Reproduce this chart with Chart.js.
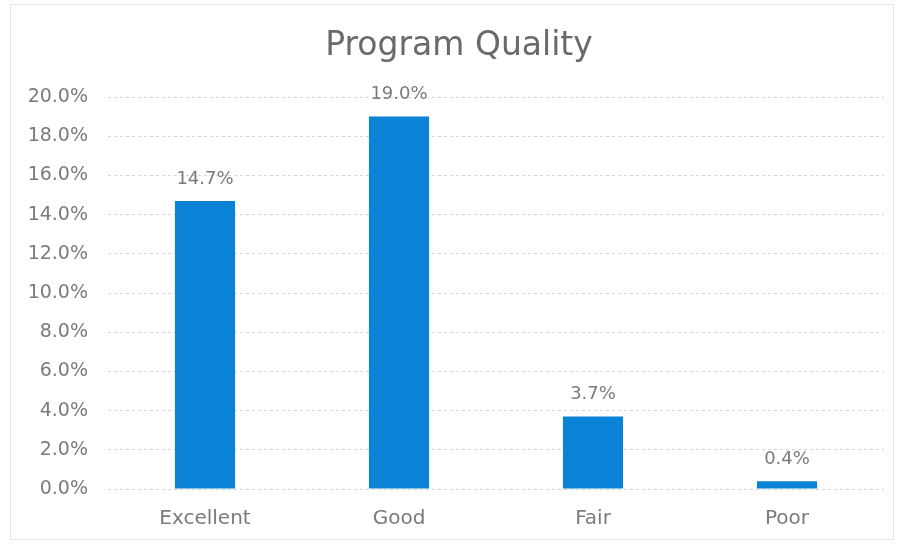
<!DOCTYPE html>
<html>
<head>
<meta charset="utf-8">
<script src="https://cdn.jsdelivr.net/npm/chart.js"></script>
<style>
  html, body { margin: 0; padding: 0; background: #fff; }
  #wrap { position: relative; width: 900px; height: 544px; }
  #frame { position: absolute; left: 10px; top: 4px; width: 884px; height: 536px; border: 1px solid #e6e6e6; box-sizing: border-box; pointer-events: none; }
</style>
</head>
<body>
<div id="wrap">
  <canvas id="c" width="900" height="544"></canvas>
  <div id="frame"></div>
</div>
<script>
const categories = ["Excellent", "Good", "Fair", "Poor"];
const values = [14.7, 19.0, 3.7, 0.4];
const yTicks = [0, 2, 4, 6, 8, 10, 12, 14, 16, 18, 20];
const titleText = "Program Quality";

const FONT = "'DejaVu Sans', sans-serif";
const GRAY = "#7b7b7b";

const labelPlugin = {
  id: 'barLabels',
  afterDatasetsDraw(chart) {
    const ctx = chart.ctx;
    const meta = chart.getDatasetMeta(0);
    ctx.save();
    ctx.font = "18px " + FONT;
    ctx.fillStyle = GRAY;
    ctx.textAlign = 'center';
    ctx.textBaseline = 'middle';
    meta.data.forEach((bar, i) => {
      ctx.fillText(values[i].toFixed(1) + '%', bar.x, bar.y - 22);
    });
    ctx.restore();
  }
};

new Chart(document.getElementById('c'), {
  type: 'bar',
  data: {
    labels: categories,
    datasets: [{
      data: values,
      backgroundColor: '#0a83d6',
      barPercentage: 0.62,
      categoryPercentage: 0.5
    }]
  },
  options: {
    responsive: false,
    animation: false,
    layout: { padding: { left: 34, right: 16, top: 0, bottom: 0 } },
    plugins: {
      legend: { display: false },
      tooltip: { enabled: false },
      title: {
        display: true,
        text: titleText,
        color: '#6a6a6a',
        font: { family: FONT, size: 33, weight: 'normal', lineHeight: 1.2 },
        padding: { top: 27, bottom: 30.4 }
      }
    },
    scales: {
      x: {
        afterFit(scale) { scale.height = 55; },
        grid: { display: false },
        border: { display: false },
        ticks: { color: GRAY, font: { family: FONT, size: 20 }, padding: 10 }
      },
      y: {
        min: 0, max: 20,
        afterBuildTicks(scale) { scale.ticks = yTicks.map(v => ({ value: v })); },
        afterFit(scale) {
          scale.width = 74;
          scale._computeLabelArea = function () { return undefined; };
        },
        grid: { color: '#d6d6d6', lineWidth: 1, drawTicks: false },
        border: { display: false, dash: [3, 3] },
        ticks: {
          color: GRAY,
          font: { family: FONT, size: 19 },
          padding: 20,
          callback: v => v.toFixed(1) + '%'
        }
      }
    }
  },
  plugins: [labelPlugin]
});
</script>
</body>
</html>
